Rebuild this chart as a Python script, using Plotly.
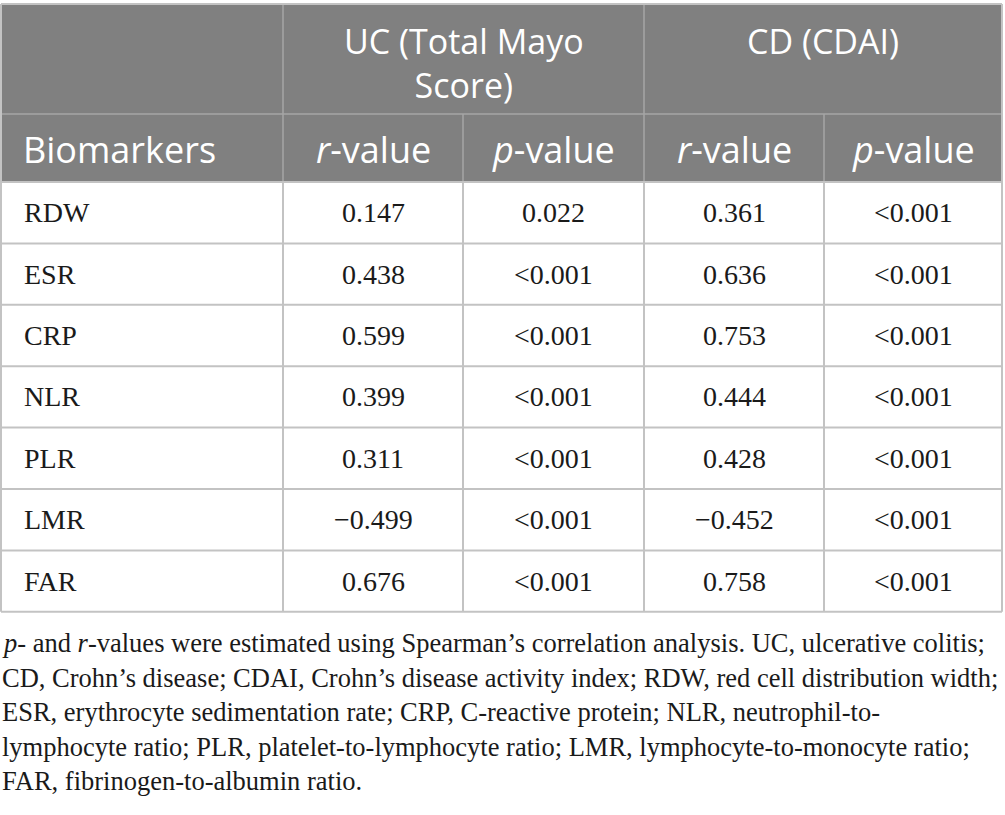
import plotly.graph_objects as go

# Table data
biomarkers = ['RDW', 'ESR', 'CRP', 'NLR', 'PLR', 'LMR', 'FAR']
uc_r = ['0.147', '0.438', '0.599', '0.399', '0.311', '\u22120.499', '0.676']
uc_p = ['0.022', '<0.001', '<0.001', '<0.001', '<0.001', '<0.001', '<0.001']
cd_r = ['0.361', '0.636', '0.753', '0.444', '0.428', '\u22120.452', '0.758']
cd_p = ['<0.001', '<0.001', '<0.001', '<0.001', '<0.001', '<0.001', '<0.001']

group_headers = ['UC (Total Mayo<br>Score)', 'CD (CDAI)']
sub_headers = ['Biomarkers', '<i>r</i>-value', '<i>p</i>-value', '<i>r</i>-value', '<i>p</i>-value']

footnote_lines = [
    "<i>p</i>- and <i>r</i>-values were estimated using Spearman\u2019s correlation analysis. UC, ulcerative colitis;",
    "CD, Crohn\u2019s disease; CDAI, Crohn\u2019s disease activity index; RDW, red cell distribution width;",
    "ESR, erythrocyte sedimentation rate; CRP, C-reactive protein; NLR, neutrophil-to-",
    "lymphocyte ratio; PLR, platelet-to-lymphocyte ratio; LMR, lymphocyte-to-monocyte ratio;",
    "FAR, fibrinogen-to-albumin ratio.",
]

# Layout grid (pixel-like axis units)
col_edges = [1, 283, 463, 644, 824, 1002]
top, head_mid, head_bot = 4, 114, 182
row_h = 61.4
n_rows = len(biomarkers)
table_bot = head_bot + n_rows * row_h

HEAD_FILL = '#808080'
HEAD_LINE = '#a6a6a6'
GRID = '#c3c3c3'
SANS = 'Open Sans'
SERIF = 'Liberation Serif'

fig = go.Figure()
shapes = []
annotations = []

# header background
shapes.append(dict(type='rect', x0=col_edges[0], x1=col_edges[-1], y0=top, y1=head_bot,
                   fillcolor=HEAD_FILL, line_width=0, layer='below'))

# header inner lines
shapes.append(dict(type='line', x0=col_edges[0], x1=col_edges[-1], y0=head_mid, y1=head_mid,
                   line=dict(color=HEAD_LINE, width=1.5)))
for i, xe in enumerate(col_edges[1:-1], start=1):
    y_start = top if i in (1, 3) else head_mid
    shapes.append(dict(type='line', x0=xe, x1=xe, y0=y_start, y1=head_bot,
                       line=dict(color=HEAD_LINE, width=1.5)))

# body grid
for r in range(n_rows + 1):
    yy = head_bot + r * row_h
    shapes.append(dict(type='line', x0=col_edges[0], x1=col_edges[-1], y0=yy, y1=yy,
                       line=dict(color=GRID, width=2)))
for xe in col_edges:
    shapes.append(dict(type='line', x0=xe, x1=xe, y0=head_bot, y1=table_bot,
                       line=dict(color=GRID, width=2)))
# outer border of header
shapes.append(dict(type='line', x0=col_edges[0], x1=col_edges[-1], y0=top, y1=top,
                   line=dict(color=GRID, width=2)))
for xe in (col_edges[0], col_edges[-1]):
    shapes.append(dict(type='line', x0=xe, x1=xe, y0=top, y1=head_bot,
                       line=dict(color=GRID, width=2)))

# group headers, top aligned in the first header row
for g, label in enumerate(group_headers):
    xc = (col_edges[1 + 2 * g] + col_edges[3 + 2 * g]) / 2
    annotations.append(dict(x=xc, y=top + 12, text=label, showarrow=False,
                            xanchor='center', yanchor='top', align='center',
                            font=dict(family=SANS, size=34, color='white')))

# sub headers
for c, label in enumerate(sub_headers):
    if c == 0:
        xa, anchor = col_edges[0] + 20, 'left'
    else:
        xa, anchor = (col_edges[c] + col_edges[c + 1]) / 2, 'center'
    annotations.append(dict(x=xa, y=(head_mid + head_bot) / 2 + 1, text=label, showarrow=False,
                            xanchor=anchor, yanchor='middle',
                            font=dict(family=SANS, size=36, color='white')))

# body cells
columns = [biomarkers, uc_r, uc_p, cd_r, cd_p]
for c, vals in enumerate(columns):
    for r, v in enumerate(vals):
        yc = head_bot + (r + 0.5) * row_h
        if c == 0:
            xa, anchor = col_edges[0] + 21, 'left'
        else:
            xa, anchor = (col_edges[c] + col_edges[c + 1]) / 2, 'center'
        annotations.append(dict(x=xa, y=yc, text=v.replace('<', '&lt;'), showarrow=False,
                                xanchor=anchor, yanchor='middle',
                                font=dict(family=SERIF, size=28, color='#1a1a1a')))

# footnote
for k, line in enumerate(footnote_lines):
    annotations.append(dict(x=0, y=643 + k * 34.5, text=line, showarrow=False,
                            xanchor='left', yanchor='middle',
                            font=dict(family=SERIF, size=26.5, color='#1a1a1a')))

fig.update_layout(
    width=1005, height=815,
    margin=dict(l=0, r=0, t=0, b=0),
    plot_bgcolor='white', paper_bgcolor='white',
    shapes=shapes, annotations=annotations,
    xaxis=dict(range=[0, 1005], visible=False, fixedrange=True),
    yaxis=dict(range=[815, 0], visible=False, fixedrange=True),
    showlegend=False,
)

fig.write_html('out.html', config={'displayModeBar': False},
               post_script="document.body.style.margin='0';")
